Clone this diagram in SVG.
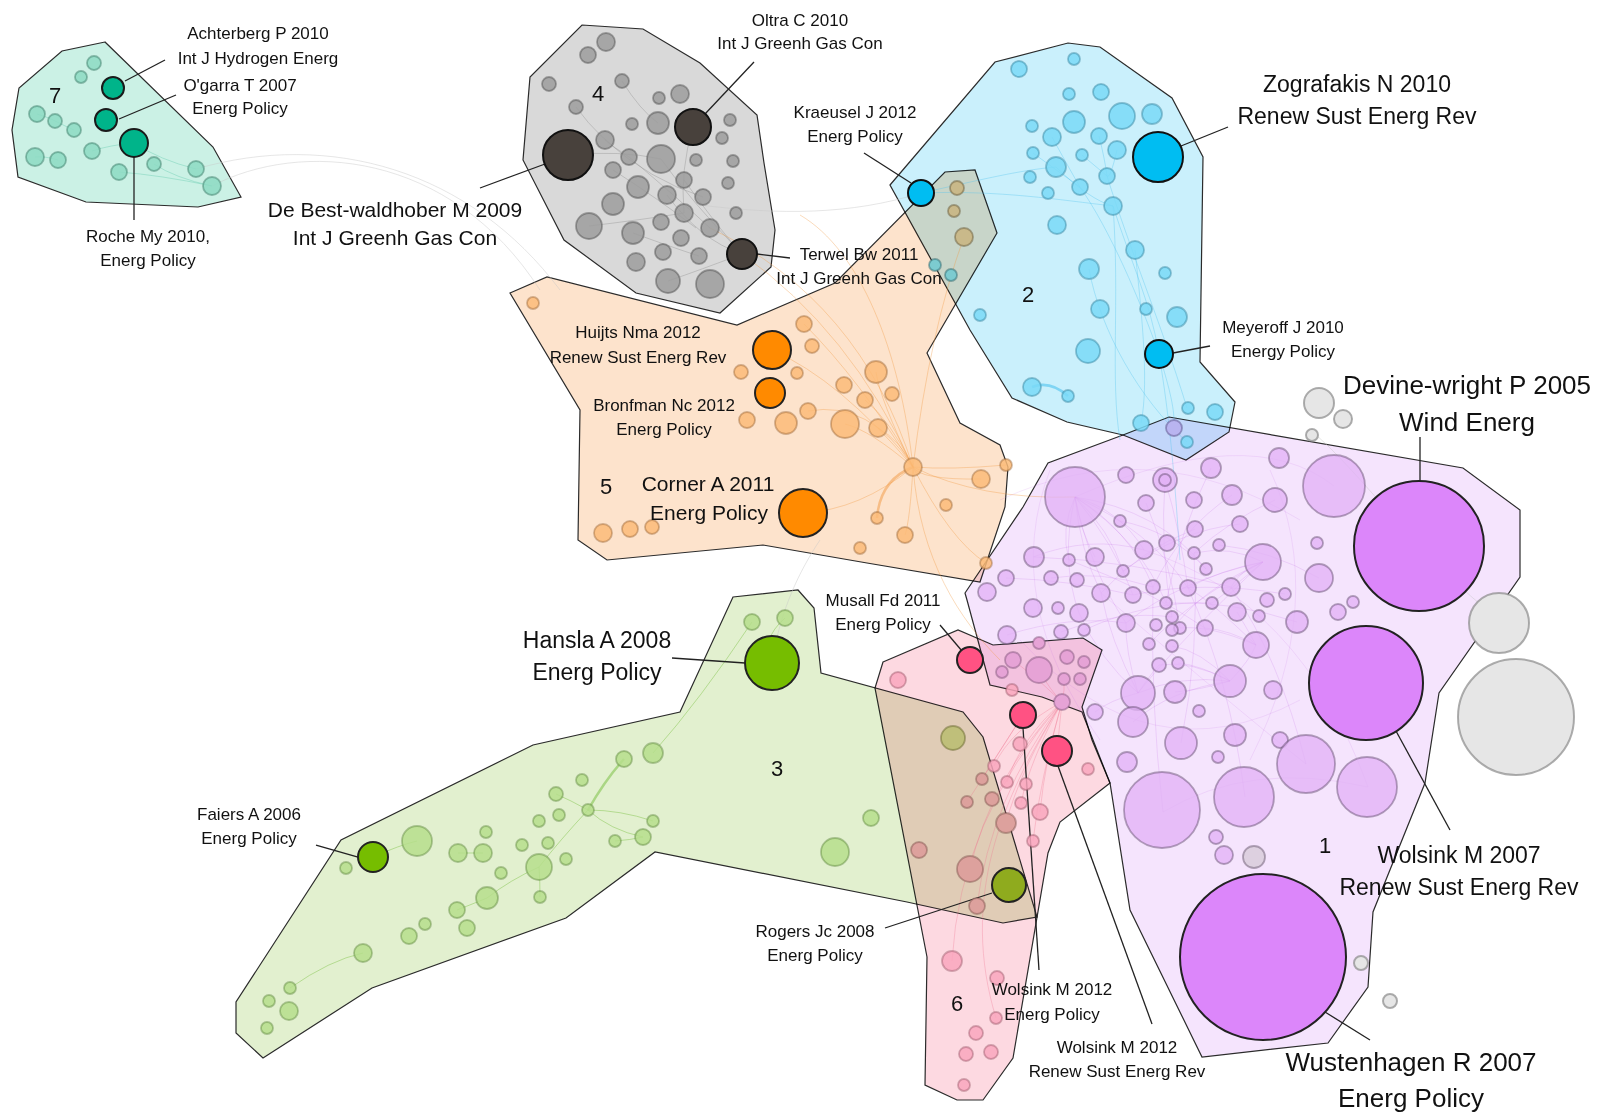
<svg xmlns="http://www.w3.org/2000/svg" width="1606" height="1115" viewBox="0 0 1606 1115">
<style>
.p{stroke:#2b2b2b;stroke-width:1.2;mix-blend-mode:multiply}
.p7{fill:#cbf1e5}.p4{fill:#d9d9d9}.p2{fill:#caf0fc}.p5{fill:#fde3cc}.p3{fill:#e2f0cf}.p6{fill:#fdd9e1}.p1{fill:#f5e4fd}
.e{fill:none;stroke-width:1}
.e7{stroke:#6fcfb3;opacity:.45}.e4{stroke:#7a7a7a;opacity:.3}.e5{stroke:#f2973f;opacity:.35}.e2{stroke:#4fc3ee;opacity:.35}
.e1{stroke:#c36de6;opacity:.2}.e3{stroke:#86c552;opacity:.5}.e6{stroke:#f0708f;opacity:.3}.eg{stroke:#c8c8c8;opacity:.45}
circle{stroke-width:1.8}
.n7{fill:#8ddac3;fill-opacity:.85;stroke:#3d7d6a;stroke-opacity:.5}.h7{fill:#00b48a;stroke:#1a1a1a;stroke-width:2}
.n4{fill:#9c9c9c;fill-opacity:.85;stroke:#4a4a4a;stroke-opacity:.45}.h4{fill:#48413c;stroke:#111;stroke-width:2}
.n2{fill:#7ad9f7;fill-opacity:.85;stroke:#2e7f99;stroke-opacity:.45}.h2{fill:#00bdf2;stroke:#111;stroke-width:2}
.n5{fill:#fbbb78;fill-opacity:.85;stroke:#8f5a2a;stroke-opacity:.4}.h5{fill:#ff8a00;stroke:#222;stroke-width:2}
.n3{fill:#b6de8c;fill-opacity:.85;stroke:#4f7a30;stroke-opacity:.4}.h3{fill:#76bd00;stroke:#222;stroke-width:2}
.n6{fill:#f9a6bd;fill-opacity:.85;stroke:#8f4a5c;stroke-opacity:.4}.h6{fill:#ff5283;stroke:#222;stroke-width:2}
.n1{fill:#e2b0f6;fill-opacity:.75;stroke:#5a4466;stroke-opacity:.45}.h1{fill:#dc86fa;stroke:#222;stroke-width:2}
.ng{fill:#e6e6e6;stroke:#8a8a8a;stroke-opacity:.7;stroke-width:2}
.t5{fill:#c9b98a;stroke:#6a5c3a;stroke-opacity:.5}.t2{fill:#7ccbd0;stroke:#2f6a70;stroke-opacity:.5}.t6{fill:#dda19d;stroke:#7a4f4a;stroke-opacity:.45}.t16{fill:#e6a3d6;stroke:#7a4f75;stroke-opacity:.45}.t3{fill:#bfbf7a;stroke:#6a6a30;stroke-opacity:.5}
.ld{stroke:#222;stroke-width:1.3;fill:none}
text{font-family:"Liberation Sans",Arial,sans-serif;fill:#111;text-anchor:middle}
.s{font-size:17px}.m{font-size:21px}.b{font-size:23px}.xl{font-size:26px}.num{font-size:22px}
</style>

<g id="hulls">
<polygon class="p p7" points="105,42 62,51 19,88 12,130 18,177 86,202 198,207 241,197 213,147"/>
<polygon class="p p4" points="582,25 643,29 700,63 757,115 764,163 775,230 771,267 720,313 636,293 564,240 523,160 530,77"/>
<polygon class="p p2" points="890,185 995,62 1068,43 1100,47 1172,98 1203,157 1200,362 1235,402 1229,432 1186,460 1123,435 1067,422 1012,398 970,330"/>
<polygon class="p p5" points="510,293 547,277 737,325 835,283 945,172 975,170 997,233 927,353 960,423 1000,445 1008,467 1005,507 980,582 867,563 763,545 607,560 578,540 580,410"/>
<polygon class="p p1" points="1123,435 1169,417 1463,468 1520,510 1520,577 1439,693 1425,783 1373,912 1368,987 1328,1043 1202,1057 1130,910 1110,783 1082,712 1042,697 990,685 967,600 965,593 1023,507 1048,463"/>
<polygon class="p p3" points="733,597 798,590 814,608 821,673 963,712 983,737 1037,917 1003,923 907,902 655,852 566,918 372,988 263,1058 236,1033 236,1002 341,840 533,745 680,712"/>
<polygon class="p p6" points="883,662 958,630 993,645 1083,638 1102,650 1082,707 1092,740 1110,783 1060,822 1048,853 1013,1058 983,1100 957,1100 925,1085 927,957 875,688"/>
</g>

<g id="connectors">
<path class="e eg" d="M212,186 C300,140 450,150 540,290"/>
<path class="e eg" d="M196,169 C330,130 470,170 560,290"/>
<path class="e eg" d="M921,193 C850,215 780,215 700,205"/>
<path class="e eg" d="M772,663 C780,610 800,570 820,540"/>
<path class="e eg" d="M1310,430 C1360,470 1420,560 1500,620"/>
<path class="e e7" d="M134,143 Q160,160 196,169 M154,164 Q175,178 212,186 M37,114 Q50,118 55,121 M55,121 Q65,126 74,130 M35,157 Q45,156 58,160 M92,151 Q110,145 134,143 M119,172 Q160,175 212,186"/>
<path class="e e4" d="M568,155 Q620,150 661,159 M661,159 Q690,200 742,254 M693,127 Q680,170 684,213 M605,140 Q650,180 703,197 M629,157 Q680,200 710,228 M589,226 Q640,220 684,213 M613,170 Q660,200 696,228 M742,254 Q700,270 668,281 M684,180 Q720,230 742,254 M576,107 Q600,140 629,157 M622,81 Q640,110 658,123 M667,195 Q700,240 742,254 M633,233 Q680,250 699,256"/>
<path class="e e5" d="M913,467 Q880,400 876,372 M913,467 Q860,380 804,324 M913,467 Q850,330 742,254 M913,467 Q860,300 710,228 M913,467 Q840,380 772,350 M913,467 Q870,430 845,424 M913,467 Q920,480 981,479 M913,467 Q950,470 1006,465 M913,467 Q860,510 803,513 M913,467 Q870,400 808,411 M913,467 C900,350 860,250 800,215 M913,467 Q980,500 1075,497 M913,467 Q950,540 986,563 M913,467 C920,560 960,620 1000,660 M913,467 Q930,330 964,237 M913,467 Q890,420 865,400 M913,467 Q900,440 878,428 M913,467 Q910,520 905,535"/>
<path d="M913,467 Q880,480 877,518" fill="none" stroke="#f2973f" stroke-width="2.5" opacity=".5"/>
<path class="e e2" d="M1113,206 C1130,260 1150,300 1159,354 M1080,187 C1110,230 1140,300 1159,354 M1107,176 C1130,250 1160,320 1187,408 M1056,167 Q1090,200 1113,206 M1033,153 Q1070,180 1080,187 M1082,155 Q1100,170 1107,176 M1117,150 Q1110,180 1107,176 M921,193 C980,180 1020,170 1056,167 M921,193 C1000,190 1060,200 1113,206 M1135,250 C1140,300 1150,380 1141,423 M1159,354 C1170,390 1175,410 1174,428 M1089,269 C1100,330 1140,400 1187,442 M1052,137 Q1070,170 1080,187 M1099,136 Q1105,160 1107,176 M1113,206 C1120,300 1110,380 1120,440 M1159,354 C1170,420 1175,480 1180,560"/>
<path d="M1032,387 Q1050,380 1068,396" fill="none" stroke="#4fc3ee" stroke-width="2.5" opacity=".6"/>
<path class="e e1" d="M1075,497 Q1120,510 1144,550 M1075,497 Q1110,530 1123,571 M1075,497 Q1080,550 1101,593 M1075,497 Q1115,545 1133,595 M1075,497 Q1130,530 1153,587 M1075,497 Q1060,560 1079,613 M1075,497 Q1090,570 1126,623 M1075,497 Q1140,540 1166,603 M1075,497 Q1150,530 1188,588 M1075,497 Q1080,530 1095,557 M1075,497 Q1060,530 1069,560 M1075,497 Q1160,510 1206,569 M1263,562 Q1230,545 1194,553 M1263,562 Q1220,570 1188,588 M1263,562 Q1230,590 1212,603 M1263,562 Q1200,590 1172,630 M1263,562 Q1240,570 1231,587 M1263,562 Q1190,600 1149,644 M1263,562 Q1180,580 1126,623 M1263,562 Q1180,640 1138,693 M1230,681 Q1200,650 1172,646 M1230,681 Q1190,660 1159,665 M1230,681 Q1200,665 1178,663 M1230,681 Q1170,690 1133,722 M1230,681 Q1180,675 1138,693 M1230,681 Q1200,690 1175,692 M1230,681 Q1250,660 1256,645 M1138,693 Q1100,660 1079,613 M1138,693 Q1110,640 1101,593 M1138,693 Q1125,650 1126,623 M1138,693 Q1150,675 1159,665 M1138,693 Q1110,700 1095,712 M1256,645 Q1230,630 1205,628 M1256,645 Q1210,625 1180,628 M1256,645 Q1245,625 1237,612 M1256,645 Q1210,600 1188,588 M1033,557 Q1090,535 1144,550 M1051,578 Q1100,570 1153,587 M1007,635 Q1070,615 1126,623 M1061,632 Q1120,610 1172,617 M1084,630 Q1150,600 1212,603 M1006,578 Q1070,580 1133,595 M1165,480 Q1160,550 1172,617 M1165,480 Q1180,530 1188,588 M1211,468 Q1180,530 1166,603 M1232,495 Q1180,530 1153,587 M1275,500 Q1230,520 1194,553 M1240,524 Q1180,530 1123,571 M1195,529 Q1140,550 1101,593 M1146,503 Q1170,560 1180,628 M1120,521 Q1170,530 1206,569 M1319,578 Q1270,550 1219,545 M1297,622 Q1230,600 1166,603 M1285,594 Q1200,580 1133,595 M1181,743 Q1200,650 1194,553 M1245,797 Q1230,680 1188,588 M1163,812 Q1150,700 1153,587 M1306,764 Q1280,660 1231,587 M1034,557 Q1130,560 1231,587 M1069,560 Q1150,590 1205,628"/>
<path class="e e1" style="opacity:.15" d="M1163,812 Q1250,760 1368,787 M1075,497 Q1250,420 1334,486 M1101,593 Q1250,720 1306,764 M1144,550 Q1300,600 1368,787 M1000,500 Q1150,430 1300,520 M1020,640 Q1150,780 1300,700 M1050,470 Q1000,600 1100,740 M1270,470 Q1330,600 1250,760"/>
<path class="e e6" d="M1062,702 Q1040,680 1013,660 M1062,702 Q1050,690 1039,670 M1057,751 L1062,702 M1062,702 Q1065,690 1064,679 M1062,702 Q1030,760 1021,803 M1062,702 Q1020,740 1007,782 M1062,702 Q1045,760 1040,812 M1062,702 Q1020,770 1006,823 M1062,702 Q990,780 970,869 M1062,702 Q1040,780 1033,841 M1062,702 Q1010,730 994,766 M1062,702 Q990,800 977,906 M1062,702 Q960,820 952,961 M1023,715 L982,779 M1023,715 L967,802 M1062,702 C1000,800 960,900 996,1018"/>
<path class="e e3" d="M588,810 Q570,800 556,794 M588,810 Q610,830 643,837 M588,810 Q620,810 653,821 M588,810 Q560,840 539,867 M539,867 Q510,880 487,898 M487,898 Q470,905 457,910 M417,841 Q400,845 373,857 M458,853 Q470,853 483,853 M363,953 Q330,960 290,988 M772,663 Q760,640 785,618 M752,622 Q700,700 653,753 M539,867 Q540,880 540,897 M615,841 Q630,840 643,837"/>
<path d="M588,810 Q605,780 624,759" fill="none" stroke="#86c552" stroke-width="2.5" opacity=".6"/>
</g>

<g id="leaders">
<line class="ld" x1="125" y1="81" x2="165" y2="60"/>
<line class="ld" x1="119" y1="119" x2="176" y2="95"/>
<line class="ld" x1="134" y1="157" x2="134" y2="220"/>
<line class="ld" x1="480" y1="188" x2="545" y2="164"/>
<line class="ld" x1="754" y1="62" x2="705" y2="114"/>
<line class="ld" x1="757" y1="254" x2="790" y2="258"/>
<line class="ld" x1="864" y1="153" x2="911" y2="183"/>
<line class="ld" x1="1181" y1="146" x2="1228" y2="127"/>
<line class="ld" x1="1173" y1="353" x2="1210" y2="346"/>
<line class="ld" x1="1420" y1="437" x2="1420" y2="481"/>
<line class="ld" x1="1396" y1="731" x2="1450" y2="830"/>
<line class="ld" x1="1325" y1="1012" x2="1370" y2="1040"/>
<line class="ld" x1="672" y1="658" x2="745" y2="663"/>
<line class="ld" x1="316" y1="845" x2="358" y2="857"/>
<line class="ld" x1="885" y1="928" x2="992" y2="893"/>
<line class="ld" x1="940" y1="625" x2="962" y2="651"/>
<line class="ld" x1="1023" y1="728" x2="1039" y2="970"/>
<line class="ld" x1="1058" y1="766" x2="1152" y2="1024"/>
</g>

<g id="cluster7">
<circle class="n7" cx="94" cy="63" r="7"/><circle class="n7" cx="81" cy="77" r="6"/>
<circle class="n7" cx="37" cy="114" r="8"/><circle class="n7" cx="55" cy="121" r="7"/>
<circle class="n7" cx="74" cy="130" r="7"/><circle class="n7" cx="92" cy="151" r="8"/>
<circle class="n7" cx="35" cy="157" r="9"/><circle class="n7" cx="58" cy="160" r="8"/>
<circle class="n7" cx="119" cy="172" r="8"/><circle class="n7" cx="154" cy="164" r="7"/>
<circle class="n7" cx="196" cy="169" r="8"/><circle class="n7" cx="212" cy="186" r="9"/>
<circle id="achterberg" class="h7" cx="113" cy="88" r="11"/>
<circle id="ogarra" class="h7" cx="106" cy="120" r="11"/>
<circle id="roche" class="h7" cx="134" cy="143" r="14"/>
</g>

<g id="cluster4">
<circle class="n4" cx="606" cy="42" r="9"/><circle class="n4" cx="588" cy="55" r="8"/>
<circle class="n4" cx="549" cy="84" r="7"/><circle class="n4" cx="622" cy="81" r="7"/>
<circle class="n4" cx="576" cy="107" r="7"/><circle class="n4" cx="680" cy="94" r="9"/>
<circle class="n4" cx="659" cy="98" r="6"/><circle class="n4" cx="632" cy="124" r="6"/>
<circle class="n4" cx="658" cy="123" r="11"/><circle class="n4" cx="730" cy="120" r="6"/>
<circle class="n4" cx="722" cy="138" r="6"/><circle class="n4" cx="605" cy="140" r="9"/>
<circle class="n4" cx="629" cy="157" r="8"/><circle class="n4" cx="661" cy="159" r="14"/>
<circle class="n4" cx="696" cy="160" r="6"/><circle class="n4" cx="733" cy="161" r="6"/>
<circle class="n4" cx="613" cy="170" r="8"/><circle class="n4" cx="638" cy="187" r="11"/>
<circle class="n4" cx="684" cy="180" r="8"/><circle class="n4" cx="728" cy="183" r="6"/>
<circle class="n4" cx="667" cy="195" r="9"/><circle class="n4" cx="703" cy="197" r="8"/>
<circle class="n4" cx="613" cy="204" r="11"/><circle class="n4" cx="684" cy="213" r="9"/>
<circle class="n4" cx="661" cy="222" r="8"/><circle class="n4" cx="736" cy="213" r="6"/>
<circle class="n4" cx="589" cy="226" r="13"/><circle class="n4" cx="633" cy="233" r="11"/>
<circle class="n4" cx="710" cy="228" r="9"/><circle class="n4" cx="681" cy="238" r="8"/>
<circle class="n4" cx="663" cy="252" r="8"/><circle class="n4" cx="699" cy="256" r="8"/>
<circle class="n4" cx="636" cy="262" r="9"/><circle class="n4" cx="668" cy="281" r="12"/>
<circle class="n4" cx="710" cy="284" r="14"/>
<circle id="debest" class="h4" cx="568" cy="155" r="25"/>
<circle id="oltra" class="h4" cx="693" cy="127" r="18"/>
<circle id="terwel" class="h4" cx="742" cy="254" r="15"/>
</g>

<g id="cluster2">
<circle class="n2" cx="1019" cy="69" r="8"/><circle class="n2" cx="1074" cy="59" r="6"/>
<circle class="n2" cx="1069" cy="94" r="6"/><circle class="n2" cx="1101" cy="92" r="8"/>
<circle class="n2" cx="1032" cy="126" r="6"/><circle class="n2" cx="1074" cy="122" r="11"/>
<circle class="n2" cx="1122" cy="116" r="13"/><circle class="n2" cx="1152" cy="114" r="10"/>
<circle class="n2" cx="1052" cy="137" r="9"/><circle class="n2" cx="1099" cy="136" r="8"/>
<circle class="n2" cx="1033" cy="153" r="6"/><circle class="n2" cx="1082" cy="155" r="6"/>
<circle class="n2" cx="1117" cy="150" r="9"/><circle class="n2" cx="1056" cy="167" r="10"/>
<circle class="n2" cx="1030" cy="177" r="6"/><circle class="n2" cx="1107" cy="176" r="8"/>
<circle class="n2" cx="1048" cy="193" r="6"/><circle class="n2" cx="1080" cy="187" r="8"/>
<circle class="n2" cx="1113" cy="206" r="9"/><circle class="n2" cx="1057" cy="225" r="9"/>
<circle class="n2" cx="1135" cy="250" r="9"/><circle class="n2" cx="1089" cy="269" r="10"/>
<circle class="n2" cx="1165" cy="273" r="6"/><circle class="n2" cx="1100" cy="309" r="9"/>
<circle class="n2" cx="1146" cy="309" r="6"/><circle class="n2" cx="1177" cy="317" r="10"/>
<circle class="n2" cx="980" cy="315" r="6"/><circle class="n2" cx="1088" cy="351" r="12"/>
<circle class="n2" cx="1032" cy="387" r="9"/><circle class="n2" cx="1068" cy="396" r="6"/>
<circle class="n2" cx="1188" cy="408" r="6"/><circle class="n2" cx="1215" cy="412" r="8"/>
<circle class="n2" cx="1141" cy="423" r="8"/><circle class="n2" cx="1187" cy="442" r="6"/>
<circle class="t2" cx="935" cy="265" r="6"/><circle class="t2" cx="951" cy="275" r="6"/>
<circle id="zografakis" class="h2" cx="1158" cy="157" r="25"/>
<circle id="meyeroff" class="h2" cx="1159" cy="354" r="14"/>
<circle id="kraeusel" class="h2" cx="921" cy="193" r="13"/>
</g>

<g id="cluster5">
<circle class="n5" cx="533" cy="303" r="6"/><circle class="n5" cx="804" cy="324" r="8"/>
<circle class="n5" cx="812" cy="346" r="7"/><circle class="n5" cx="741" cy="372" r="7"/>
<circle class="n5" cx="797" cy="373" r="6"/><circle class="n5" cx="876" cy="372" r="11"/>
<circle class="n5" cx="844" cy="385" r="8"/><circle class="n5" cx="892" cy="394" r="7"/>
<circle class="n5" cx="865" cy="400" r="8"/><circle class="n5" cx="747" cy="420" r="8"/>
<circle class="n5" cx="786" cy="423" r="11"/><circle class="n5" cx="808" cy="411" r="8"/>
<circle class="n5" cx="845" cy="424" r="14"/><circle class="n5" cx="878" cy="428" r="9"/>
<circle class="n5" cx="913" cy="467" r="9"/><circle class="n5" cx="1006" cy="465" r="6"/>
<circle class="n5" cx="981" cy="479" r="9"/><circle class="n5" cx="946" cy="505" r="6"/>
<circle class="n5" cx="877" cy="518" r="6"/><circle class="n5" cx="603" cy="533" r="9"/>
<circle class="n5" cx="630" cy="529" r="8"/><circle class="n5" cx="652" cy="527" r="7"/>
<circle class="n5" cx="905" cy="535" r="8"/><circle class="n5" cx="860" cy="548" r="6"/>
<circle class="n5" cx="986" cy="563" r="6"/>
<circle class="t5" cx="957" cy="188" r="7"/><circle class="t5" cx="954" cy="211" r="6"/>
<circle class="t5" cx="964" cy="237" r="9"/>
<circle id="huijts" class="h5" cx="772" cy="350" r="19"/>
<circle id="bronfman" class="h5" cx="770" cy="393" r="15"/>
<circle id="corner" class="h5" cx="803" cy="513" r="24"/>
</g>

<g id="cluster3">
<circle class="n3" cx="752" cy="622" r="8"/><circle class="n3" cx="785" cy="618" r="8"/>
<circle class="n3" cx="624" cy="759" r="8"/><circle class="n3" cx="653" cy="753" r="10"/>
<circle class="n3" cx="582" cy="780" r="6"/><circle class="n3" cx="556" cy="794" r="7"/>
<circle class="n3" cx="588" cy="810" r="6"/><circle class="n3" cx="539" cy="821" r="6"/>
<circle class="n3" cx="559" cy="815" r="6"/><circle class="n3" cx="653" cy="821" r="6"/>
<circle class="n3" cx="486" cy="832" r="6"/><circle class="n3" cx="417" cy="841" r="15"/>
<circle class="n3" cx="458" cy="853" r="9"/><circle class="n3" cx="483" cy="853" r="9"/>
<circle class="n3" cx="522" cy="845" r="6"/><circle class="n3" cx="548" cy="843" r="6"/>
<circle class="n3" cx="615" cy="841" r="6"/><circle class="n3" cx="643" cy="837" r="8"/>
<circle class="n3" cx="566" cy="859" r="6"/><circle class="n3" cx="539" cy="867" r="13"/>
<circle class="n3" cx="346" cy="868" r="6"/><circle class="n3" cx="501" cy="873" r="6"/>
<circle class="n3" cx="487" cy="898" r="11"/><circle class="n3" cx="457" cy="910" r="8"/>
<circle class="n3" cx="425" cy="924" r="6"/><circle class="n3" cx="467" cy="928" r="8"/>
<circle class="n3" cx="409" cy="936" r="8"/><circle class="n3" cx="540" cy="897" r="6"/>
<circle class="n3" cx="363" cy="953" r="9"/><circle class="n3" cx="290" cy="988" r="6"/>
<circle class="n3" cx="269" cy="1001" r="6"/><circle class="n3" cx="289" cy="1011" r="9"/>
<circle class="n3" cx="267" cy="1028" r="6"/><circle class="n3" cx="871" cy="818" r="8"/>
<circle class="n3" cx="835" cy="852" r="14"/>
<circle class="t3" cx="953" cy="738" r="12"/>
<circle id="hansla" class="h3" cx="772" cy="663" r="27"/>
<circle id="faiers" class="h3" cx="373" cy="857" r="15"/>
<circle id="rogers" cx="1009" cy="885" r="17" style="fill:#8fab1e;stroke:#222;stroke-width:2"/>
</g>

<g id="cluster1">
<circle class="ng" cx="1319" cy="403" r="15"/><circle class="ng" cx="1343" cy="419" r="9"/>
<circle class="ng" cx="1312" cy="435" r="6"/><circle class="ng" cx="1499" cy="623" r="30"/>
<circle class="ng" cx="1516" cy="717" r="58"/><circle class="ng" cx="1361" cy="963" r="7"/>
<circle class="ng" cx="1390" cy="1001" r="7"/>
<circle class="n1" cx="1075" cy="497" r="30"/><circle class="n1" cx="1126" cy="475" r="8"/>
<circle class="n1" cx="1165" cy="480" r="12"/><circle class="n1" cx="1165" cy="480" r="6"/>
<circle class="n1" cx="1211" cy="468" r="10"/><circle class="n1" cx="1279" cy="458" r="10"/>
<circle class="n1" cx="1334" cy="486" r="31"/><circle class="n1" cx="1146" cy="503" r="8"/>
<circle class="n1" cx="1194" cy="500" r="8"/><circle class="n1" cx="1232" cy="495" r="10"/>
<circle class="n1" cx="1275" cy="500" r="12"/><circle class="n1" cx="1120" cy="521" r="6"/>
<circle class="n1" cx="1195" cy="529" r="8"/><circle class="n1" cx="1240" cy="524" r="8"/>
<circle class="n1" cx="1034" cy="557" r="10"/><circle class="n1" cx="1069" cy="560" r="6"/>
<circle class="n1" cx="1095" cy="557" r="9"/><circle class="n1" cx="1144" cy="550" r="9"/>
<circle class="n1" cx="1167" cy="543" r="8"/><circle class="n1" cx="1194" cy="553" r="6"/>
<circle class="n1" cx="1219" cy="545" r="6"/><circle class="n1" cx="1263" cy="562" r="18"/>
<circle class="n1" cx="1317" cy="543" r="6"/><circle class="n1" cx="1006" cy="578" r="8"/>
<circle class="n1" cx="1051" cy="578" r="7"/><circle class="n1" cx="1077" cy="580" r="7"/>
<circle class="n1" cx="1123" cy="571" r="6"/><circle class="n1" cx="1206" cy="569" r="6"/>
<circle class="n1" cx="987" cy="592" r="9"/><circle class="n1" cx="1101" cy="593" r="9"/>
<circle class="n1" cx="1133" cy="595" r="8"/><circle class="n1" cx="1153" cy="587" r="7"/>
<circle class="n1" cx="1188" cy="588" r="8"/><circle class="n1" cx="1231" cy="587" r="9"/>
<circle class="n1" cx="1319" cy="578" r="14"/><circle class="n1" cx="1285" cy="594" r="6"/>
<circle class="n1" cx="1267" cy="600" r="7"/><circle class="n1" cx="1212" cy="603" r="6"/>
<circle class="n1" cx="1166" cy="603" r="6"/><circle class="n1" cx="1033" cy="608" r="9"/>
<circle class="n1" cx="1058" cy="608" r="6"/><circle class="n1" cx="1079" cy="613" r="9"/>
<circle class="n1" cx="1237" cy="612" r="9"/><circle class="n1" cx="1259" cy="616" r="6"/>
<circle class="n1" cx="1172" cy="617" r="6"/><circle class="n1" cx="1338" cy="612" r="8"/>
<circle class="n1" cx="1353" cy="602" r="6"/><circle class="n1" cx="1297" cy="622" r="11"/>
<circle class="n1" cx="1126" cy="623" r="9"/><circle class="n1" cx="1156" cy="625" r="6"/>
<circle class="n1" cx="1180" cy="628" r="6"/><circle class="n1" cx="1205" cy="628" r="8"/>
<circle class="n1" cx="1007" cy="635" r="9"/><circle class="n1" cx="1061" cy="632" r="7"/>
<circle class="n1" cx="1084" cy="630" r="6"/><circle class="n1" cx="1172" cy="630" r="6"/>
<circle class="n1" cx="1256" cy="645" r="13"/><circle class="n1" cx="1149" cy="644" r="6"/>
<circle class="n1" cx="1172" cy="646" r="6"/><circle class="n1" cx="1159" cy="665" r="7"/>
<circle class="n1" cx="1178" cy="663" r="6"/><circle class="n1" cx="1230" cy="681" r="16"/>
<circle class="n1" cx="1138" cy="693" r="17"/><circle class="n1" cx="1175" cy="692" r="11"/>
<circle class="n1" cx="1273" cy="690" r="9"/><circle class="n1" cx="1095" cy="712" r="8"/>
<circle class="n1" cx="1133" cy="722" r="15"/><circle class="n1" cx="1199" cy="711" r="6"/>
<circle class="n1" cx="1181" cy="743" r="16"/><circle class="n1" cx="1235" cy="735" r="11"/>
<circle class="n1" cx="1280" cy="740" r="8"/><circle class="n1" cx="1127" cy="762" r="10"/>
<circle class="n1" cx="1218" cy="757" r="6"/><circle class="n1" cx="1306" cy="764" r="29"/>
<circle class="n1" cx="1367" cy="787" r="30"/><circle class="n1" cx="1244" cy="797" r="30"/>
<circle class="n1" cx="1162" cy="810" r="38"/><circle class="n1" cx="1216" cy="837" r="7"/>
<circle class="n1" cx="1224" cy="855" r="9"/>
<circle cx="1254" cy="857" r="11" style="fill:#ddd0e0;stroke:#6a5a70;stroke-opacity:.5"/>
<circle cx="1174" cy="428" r="8" style="fill:#b9b4f0;stroke:#5a5088;stroke-opacity:.5"/>
<circle id="devine" class="h1" cx="1419" cy="546" r="65"/>
<circle id="wolsink2007" class="h1" cx="1366" cy="683" r="57"/>
<circle id="wustenhagen" class="h1" cx="1263" cy="957" r="83"/>
</g>

<g id="cluster6">
<circle class="n6" cx="898" cy="680" r="8"/><circle class="n6" cx="1020" cy="744" r="7"/>
<circle class="n6" cx="1088" cy="769" r="6"/><circle class="n6" cx="994" cy="766" r="6"/>
<circle class="n6" cx="1007" cy="782" r="6"/><circle class="n6" cx="1026" cy="784" r="6"/>
<circle class="n6" cx="1021" cy="803" r="6"/><circle class="n6" cx="1040" cy="812" r="8"/>
<circle class="n6" cx="1033" cy="841" r="6"/>
<circle class="t6" cx="982" cy="779" r="6"/><circle class="t6" cx="992" cy="799" r="7"/>
<circle class="t6" cx="967" cy="802" r="6"/><circle class="t6" cx="1006" cy="823" r="10"/>
<circle class="t6" cx="919" cy="850" r="8"/><circle class="t6" cx="970" cy="869" r="13"/>
<circle class="t6" cx="977" cy="906" r="8"/>
<circle class="n6" cx="952" cy="961" r="10"/><circle class="n6" cx="997" cy="978" r="7"/>
<circle class="n6" cx="996" cy="1018" r="6"/><circle class="n6" cx="976" cy="1033" r="7"/>
<circle class="n6" cx="966" cy="1054" r="7"/><circle class="n6" cx="991" cy="1052" r="7"/>
<circle class="n6" cx="964" cy="1085" r="6"/><circle class="n6" cx="1012" cy="690" r="6"/>
<circle class="t16" cx="1002" cy="672" r="6"/><circle class="t16" cx="1013" cy="660" r="8"/>
<circle class="t16" cx="1039" cy="670" r="13"/><circle class="t16" cx="1039" cy="643" r="6"/>
<circle class="t16" cx="1067" cy="657" r="7"/><circle class="t16" cx="1084" cy="662" r="6"/>
<circle class="t16" cx="1064" cy="679" r="6"/><circle class="t16" cx="1080" cy="679" r="6"/>
<circle class="t16" cx="1062" cy="702" r="8"/>
<circle id="musall" class="h6" cx="970" cy="660" r="13"/>
<circle id="wolsink2012ep" class="h6" cx="1023" cy="715" r="13"/>
<circle id="wolsink2012rser" class="h6" cx="1057" cy="751" r="15"/>
</g>

<g id="labels">
<text class="num" x="55" y="103">7</text>
<text class="num" x="598" y="101">4</text>
<text class="num" x="1028" y="302">2</text>
<text class="num" x="606" y="494">5</text>
<text class="num" x="777" y="776">3</text>
<text class="num" x="957" y="1011">6</text>
<text class="num" x="1325" y="853">1</text>
<text class="s" x="258" y="39">Achterberg P 2010</text>
<text class="s" x="258" y="64">Int J Hydrogen Energ</text>
<text class="s" x="240" y="91">O'garra T 2007</text>
<text class="s" x="240" y="114">Energ Policy</text>
<text class="s" x="148" y="242">Roche My 2010,</text>
<text class="s" x="148" y="266">Energ Policy</text>
<text class="m" x="395" y="217">De Best-waldhober M 2009</text>
<text class="m" x="395" y="245">Int J Greenh Gas Con</text>
<text class="s" x="800" y="26">Oltra C 2010</text>
<text class="s" x="800" y="49">Int J Greenh Gas Con</text>
<text class="s" x="855" y="118">Kraeusel J 2012</text>
<text class="s" x="855" y="142">Energ Policy</text>
<text class="s" x="859" y="260">Terwel Bw 2011</text>
<text class="s" x="859" y="284">Int J Greenh Gas Con</text>
<text class="b" x="1357" y="92">Zografakis N 2010</text>
<text class="b" x="1357" y="124">Renew Sust Energ Rev</text>
<text class="s" x="1283" y="333">Meyeroff J 2010</text>
<text class="s" x="1283" y="357">Energy Policy</text>
<text class="s" x="638" y="338">Huijts Nma 2012</text>
<text class="s" x="638" y="363">Renew Sust Energ Rev</text>
<text class="s" x="664" y="411">Bronfman Nc 2012</text>
<text class="s" x="664" y="435">Energ Policy</text>
<text class="m" x="708" y="491">Corner A 2011</text>
<text class="m" x="709" y="520">Energ Policy</text>
<text class="xl" x="1467" y="394">Devine-wright P 2005</text>
<text class="xl" x="1467" y="431">Wind Energ</text>
<text class="s" x="883" y="606">Musall Fd 2011</text>
<text class="s" x="883" y="630">Energ Policy</text>
<text class="b" x="597" y="648">Hansla A 2008</text>
<text class="b" x="597" y="680">Energ Policy</text>
<text class="s" x="249" y="820">Faiers A 2006</text>
<text class="s" x="249" y="844">Energ Policy</text>
<text class="s" x="815" y="937">Rogers Jc 2008</text>
<text class="s" x="815" y="961">Energ Policy</text>
<text class="s" x="1052" y="995">Wolsink M 2012</text>
<text class="s" x="1052" y="1020">Energ Policy</text>
<text class="s" x="1117" y="1053">Wolsink M 2012</text>
<text class="s" x="1117" y="1077">Renew Sust Energ Rev</text>
<text class="b" x="1459" y="863">Wolsink M 2007</text>
<text class="b" x="1459" y="895">Renew Sust Energ Rev</text>
<text class="xl" x="1411" y="1071">Wustenhagen R 2007</text>
<text class="xl" x="1411" y="1107">Energ Policy</text>
</g>
</svg>
